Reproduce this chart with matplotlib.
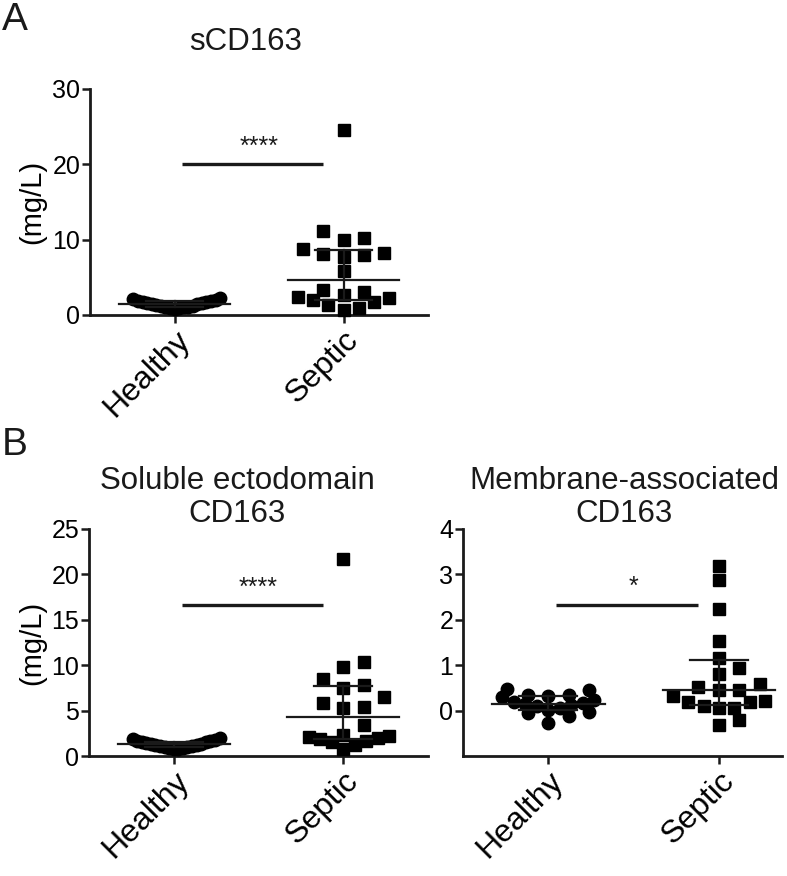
import matplotlib
matplotlib.use("Agg")
import matplotlib.pyplot as plt
from matplotlib import font_manager
import numpy as np

# values (mg/L)
groups = ["Healthy", "Septic"]

healthy_a = [0.85, 0.9, 0.95, 1.0, 1.05, 1.1, 1.15, 1.25, 1.3, 1.4,
             1.5, 1.55, 1.6, 1.7, 1.75, 1.85, 1.9, 2.0, 2.1, 2.2]
septic_a = [24.5, 11.1, 10.2, 10.0, 8.7, 8.2, 8.1, 8.0, 7.7, 5.9,
            3.3, 3.1, 2.6, 2.4, 2.2, 2.0, 1.7, 1.3, 0.9, 0.7]

healthy_b1 = [0.75, 0.8, 0.85, 0.9, 0.95, 1.0, 1.05, 1.1, 1.2, 1.25,
              1.3, 1.35, 1.4, 1.5, 1.55, 1.6, 1.7, 1.75, 1.85, 2.0]
septic_b1 = [21.7, 10.3, 9.85, 8.45, 7.8, 7.5, 6.5, 5.8, 5.4, 5.25,
             3.4, 2.3, 2.2, 2.1, 2.0, 1.9, 1.7, 1.5, 1.2, 0.8]

healthy_b2 = [0.48, 0.46, 0.35, 0.34, 0.33, 0.30, 0.24, 0.20, 0.16,
              0.14, 0.12, 0.10, 0.05, 0.02, -0.02, -0.05, -0.12, -0.28]
septic_b2 = [3.19, 2.87, 2.24, 1.54, 1.16, 0.94, 0.80, 0.59, 0.53, 0.46,
             0.45, 0.33, 0.22, 0.20, 0.20, 0.10, 0.05, 0.05, -0.20, -0.31]

sig_a, sig_b1, sig_b2 = (20.0, "****"), (16.6, "****"), (2.33, "*")


def have_font(name):
    try:
        font_manager.findfont(name, fallback_to_default=False)
        return True
    except Exception:
        return False


main_font = "Liberation Sans" if have_font("Liberation Sans") else "DejaVu Sans"
tick_font = "Liberation Sans Narrow" if have_font("Liberation Sans Narrow") else main_font
ink = "#1a1a1a"

plt.rcParams["font.family"] = [main_font, "DejaVu Sans"]
plt.rcParams["text.color"] = ink

fig = plt.figure(figsize=(7.87, 8.76), dpi=100)
W, H = 787.0, 876.0


def px_axes(l, t, r, b):
    return fig.add_axes([l / W, 1 - b / H, (r - l) / W, (b - t) / H])


def swarm(ax, values, size_px=13, spacing=0.12, max_half=0.27):
    v = np.asarray(values, float)
    py = ax.transData.transform(np.column_stack([np.zeros(len(v)), v]))[:, 1]
    order = np.argsort(py)
    rows, start = [], None
    for i in order:
        if start is None or py[i] - start > size_px:
            rows.append([])
            start = py[i]
        rows[-1].append(i)
    off = np.zeros(len(v))
    for row in rows:
        top = len(row) // 2
        step = spacing if top == 0 else min(spacing, max_half / top)
        for k, i in enumerate(row):
            slot = (k + 1) // 2 * (1 if k % 2 else -1)
            off[i] = slot * step
    return off


def panel(ax, healthy, septic, ylim, yticks, xmax, sig):
    ax.set_xlim(-0.5, xmax)
    ax.set_ylim(*ylim)
    for s in ["top", "right"]:
        ax.spines[s].set_visible(False)
    for s in ["left", "bottom"]:
        ax.spines[s].set_linewidth(2.0)
        ax.spines[s].set_color(ink)
    ax.set_yticks(yticks)
    ax.set_xticks([0, 1])
    ax.tick_params(axis="both", width=1.8, length=6, color=ink)
    ax.set_xticklabels(groups, rotation=45, ha="right", va="top",
                       rotation_mode="anchor", fontsize=23)
    for lab in ax.get_yticklabels():
        lab.set_fontfamily([tick_font, "DejaVu Sans"])
        lab.set_fontsize(18)
    ax.tick_params(axis="y", pad=1)
    ax.tick_params(axis="x", pad=1)

    for xc, vals, mk in [(0, healthy, "o"), (1, septic, "s")]:
        off = swarm(ax, vals)
        ax.plot(xc + off, vals, linestyle="none", marker=mk, markersize=9,
                color="black", zorder=3, clip_on=False)
        q1, med, q3 = np.percentile(vals, [25, 50, 75], method="weibull")
        ax.plot([xc - 0.33, xc + 0.33], [med, med], color=ink, lw=1.6, zorder=4)
        ax.plot([xc, xc], [q1, q3], color=ink, lw=1.6, zorder=4)
        for q in (q1, q3):
            ax.plot([xc - 0.17, xc + 0.17], [q, q], color=ink, lw=1.6, zorder=4)

    yv, txt = sig
    ax.plot([0.046, 0.88], [yv, yv], color=ink, lw=2.4, solid_capstyle="butt")
    ax.annotate(txt, xy=(0.5, yv), xytext=(0, 4), textcoords="offset points",
                ha="center", va="bottom", fontsize=18)


ax_a = px_axes(90, 89, 428, 315)
panel(ax_a, healthy_a, septic_a, (0, 30), [0, 10, 20, 30], 1.5, sig_a)
ax_a.set_ylabel("(mg/L)", fontsize=21, labelpad=4)

ax_b1 = px_axes(89, 529, 428, 756)
panel(ax_b1, healthy_b1, septic_b1, (0, 25), [0, 5, 10, 15, 20, 25], 1.5, sig_b1)
ax_b1.set_ylabel("(mg/L)", fontsize=21, labelpad=4)

ax_b2 = px_axes(463, 529, 782, 756)
panel(ax_b2, healthy_b2, septic_b2, (-1, 4), [0, 1, 2, 3, 4], 1.37, sig_b2)

fig.text(246 / W, 1 - 42 / H, "sCD163", ha="center", va="center", fontsize=22.5)
fig.text(237 / W, 1 - 466 / H, "Soluble ectodomain\nCD163", ha="center",
         va="top", fontsize=22.5, linespacing=1.15)
fig.text(624 / W, 1 - 466 / H, "Membrane-associated\nCD163", ha="center",
         va="top", fontsize=22.5, linespacing=1.15)

fig.text(2 / W, 1 - 20 / H, "A", ha="left", va="center", fontsize=28)
fig.text(2 / W, 1 - 445 / H, "B", ha="left", va="center", fontsize=28)

fig.savefig("out.png", dpi=100)
